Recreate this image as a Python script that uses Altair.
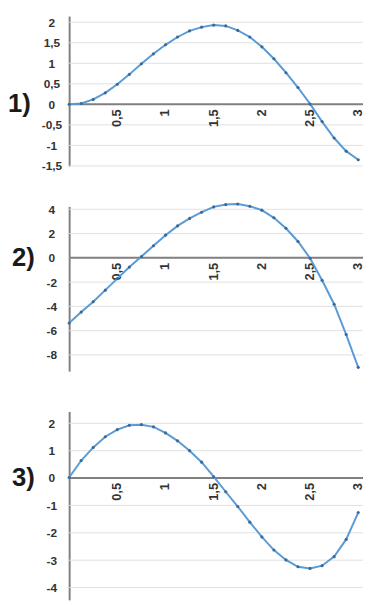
import altair as alt
import pandas as pd

# ---- data ----
x_vals = [0, 0.125, 0.25, 0.375, 0.5, 0.625, 0.75, 0.875, 1.0, 1.125, 1.25, 1.375,
          1.5, 1.625, 1.75, 1.875, 2.0, 2.125, 2.25, 2.375, 2.5, 2.625, 2.75, 2.875, 3.0]

y1 = [0, 0.02, 0.12, 0.28, 0.49, 0.73, 0.99, 1.23, 1.45, 1.64, 1.79, 1.88, 1.93,
      1.91, 1.80, 1.64, 1.40, 1.11, 0.77, 0.41, 0.01, -0.42, -0.82, -1.14, -1.35]

y2 = [-5.37, -4.47, -3.61, -2.66, -1.71, -0.76, 0.11, 1.0, 1.87, 2.63, 3.25, 3.76, 4.2,
      4.39, 4.44, 4.25, 3.93, 3.30, 2.44, 1.35, -0.03, -1.85, -3.82, -6.32, -9.02]

y3 = [0.02, 0.64, 1.12, 1.51, 1.77, 1.93, 1.95, 1.87, 1.65, 1.36, 1.0, 0.58, 0.05,
      -0.50, -1.04, -1.61, -2.15, -2.63, -2.99, -3.24, -3.30, -3.20, -2.87, -2.24, -1.26]

x_ticks = [0.5, 1, 1.5, 2, 2.5, 3]
x_tick_labels = ["0,5", "1", "1,5", "2", "2,5", "3"]

y1_ticks = [-1.5, -1, -0.5, 0, 0.5, 1, 1.5, 2]
y2_ticks = [-8, -6, -4, -2, 0, 2, 4]
y3_ticks = [-4, -3, -2, -1, 0, 1, 2]

panel_labels = ["1)", "2)", "3)"]

# ---- style ----
LINE = "#5b9bd5"
POINT = "#3a6a98"
AXIS = "#808080"
GRID = "#e0e0e0"
TEXT = "#333333"
FONT = "Liberation Sans"
PLOT_W = 298
X_MAX = 3.05


def panel(label, ys, yticks, ydomain, height, label_x):
    xs = alt.Scale(domain=[0, X_MAX], nice=False, zero=False)
    ysc = alt.Scale(domain=ydomain, nice=False, zero=False)
    df = pd.DataFrame({"x": x_vals, "y": ys})

    def yaxis():
        return alt.Axis(
            values=yticks, grid=False,
            domain=True, domainColor=AXIS, domainWidth=2,
            ticks=False, tickSize=0, labelAlign="center", labelPadding=18,
            labelOverlap=False, labelFlush=False,
            labelFont=FONT, labelFontSize=12, labelFontWeight="bold",
            labelColor=TEXT, labelExpr="replace(toString(datum.value), '.', ',')",
            title=None,
        )

    gdf = pd.DataFrame({"x0": [0] * len(yticks), "x1": [X_MAX] * len(yticks), "y": yticks})
    grid = alt.Chart(gdf).mark_rule(color=GRID, strokeWidth=1).encode(
        x=alt.X("x0:Q", scale=xs, axis=None),
        x2="x1:Q",
        y=alt.Y("y:Q", scale=ysc, axis=yaxis()),
    )

    zero = alt.Chart(pd.DataFrame({"x0": [0], "x1": [X_MAX], "y": [0]})).mark_rule(
        color=AXIS, strokeWidth=2
    ).encode(
        x=alt.X("x0:Q", scale=xs, axis=None),
        x2="x1:Q",
        y=alt.Y("y:Q", scale=ysc, axis=yaxis()),
    )

    tdf = pd.DataFrame({"x": x_ticks, "t": x_tick_labels, "y": [0] * len(x_ticks)})
    tick_text = alt.Chart(tdf).mark_text(
        angle=270, align="right", baseline="middle", dx=-5,
        font=FONT, fontSize=13, fontWeight="bold", color=TEXT,
    ).encode(
        x=alt.X("x:Q", scale=xs, axis=None),
        y=alt.Y("y:Q", scale=ysc, axis=yaxis()),
        text="t:N",
    )

    line = alt.Chart(df).mark_line(
        color=LINE, strokeWidth=2,
        point=alt.OverlayMarkDef(color=POINT, size=10, filled=True),
    ).encode(
        x=alt.X("x:Q", scale=xs, axis=None),
        y=alt.Y("y:Q", scale=ysc, axis=yaxis()),
    )

    lab = alt.Chart(pd.DataFrame({"t": [label], "y": [0]})).mark_text(
        align="left", baseline="middle", font=FONT, fontSize=26,
        fontWeight="bold", color="#1a1a1a",
    ).encode(
        x=alt.value(label_x),
        y=alt.Y("y:Q", scale=ysc, axis=yaxis()),
        text="t:N",
    )

    return alt.layer(grid, zero, tick_text, line, lab).properties(width=PLOT_W, height=height)


p1 = panel(panel_labels[0], y1, y1_ticks, [-1.5, 2.15], 152, -62)
p2 = panel(panel_labels[1], y2, y2_ticks, [-9.33, 4.24], 167, -58)
p3 = panel(panel_labels[2], y3, y3_ticks, [-4.45, 2.43], 191, -58)

chart = alt.vconcat(p1, p2, p3, spacing=41, bounds="flush").resolve_scale(
    x="independent", y="independent"
).properties(
    padding={"left": 0, "top": 4, "right": 0, "bottom": 0}
).configure_view(stroke=None).configure_axis(labelOverlap=False)

chart.save("out.html", embed_options={"renderer": "svg", "actions": False})
